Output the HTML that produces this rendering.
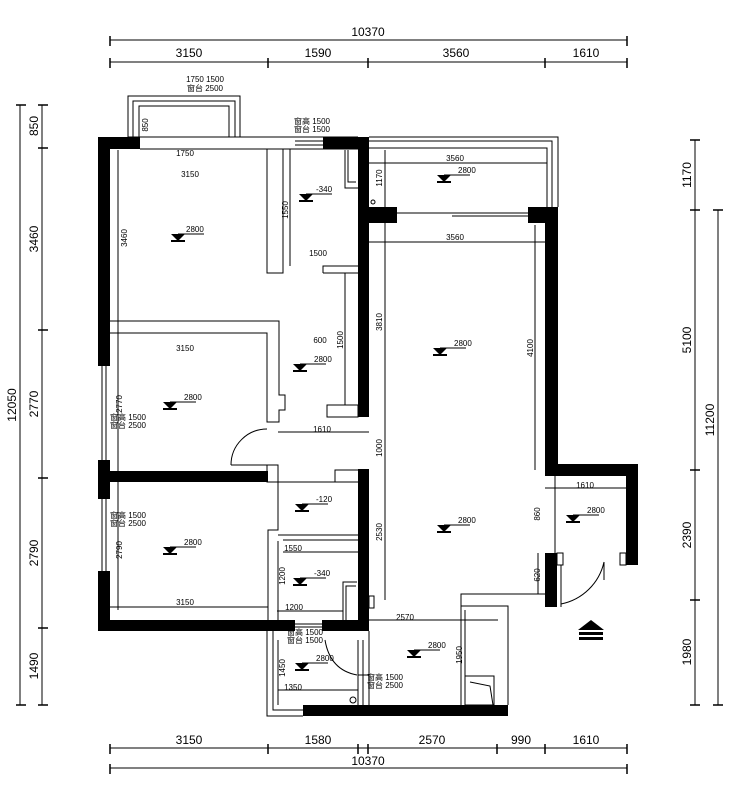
<!DOCTYPE html>
<html><head><meta charset="utf-8"><style>
html,body{margin:0;padding:0;background:#fff;}
svg{display:block;}
text{font-family:"Liberation Sans",sans-serif;fill:#000;}
.d{font-size:12px;}
.s{font-size:8px;}
</style></head><body>
<svg width="750" height="809" viewBox="0 0 750 809" xmlns="http://www.w3.org/2000/svg">
<defs>
<g id="el"><polygon points="-7,-4 7,-4 0,3" fill="#000"/><rect x="-7" y="2" width="14" height="2" fill="#000"/><line x1="0" y1="-4" x2="26" y2="-4" stroke="#000" stroke-width="1"/></g>
</defs>
<g stroke="#000" stroke-width="1" fill="none">
<!-- top dims -->
<line x1="110" y1="40" x2="627" y2="40"/>
<line x1="110" y1="62" x2="627" y2="62"/>
<g stroke-width="1.5">
<line x1="110" y1="36" x2="110" y2="46"/><line x1="627" y1="36" x2="627" y2="46"/>
<line x1="110" y1="58" x2="110" y2="68"/><line x1="268" y1="58" x2="268" y2="68"/><line x1="368" y1="58" x2="368" y2="68"/><line x1="545" y1="58" x2="545" y2="68"/><line x1="627" y1="58" x2="627" y2="68"/>
</g>
<!-- bottom dims -->
<line x1="110" y1="748" x2="627" y2="748"/>
<line x1="110" y1="768" x2="627" y2="768"/>
<g stroke-width="1.5">
<line x1="110" y1="744" x2="110" y2="754"/><line x1="268" y1="744" x2="268" y2="754"/><line x1="358" y1="744" x2="358" y2="754"/><line x1="368" y1="744" x2="368" y2="754"/><line x1="497" y1="744" x2="497" y2="754"/><line x1="545" y1="744" x2="545" y2="754"/><line x1="627" y1="744" x2="627" y2="754"/>
<line x1="110" y1="764" x2="110" y2="774"/><line x1="627" y1="764" x2="627" y2="774"/>
</g>
<!-- left dims -->
<line x1="42" y1="105" x2="42" y2="705"/>
<line x1="20" y1="105" x2="20" y2="705"/>
<g stroke-width="1.5">
<line x1="38" y1="105" x2="48" y2="105"/><line x1="38" y1="148" x2="48" y2="148"/><line x1="38" y1="330" x2="48" y2="330"/><line x1="38" y1="478" x2="48" y2="478"/><line x1="38" y1="628" x2="48" y2="628"/><line x1="38" y1="705" x2="48" y2="705"/>
<line x1="16" y1="105" x2="26" y2="105"/><line x1="16" y1="705" x2="26" y2="705"/>
</g>
<!-- right dims -->
<line x1="695" y1="140" x2="695" y2="705"/>
<line x1="718" y1="210" x2="718" y2="705"/>
<g stroke-width="1.5">
<line x1="690" y1="140" x2="700" y2="140"/><line x1="690" y1="210" x2="700" y2="210"/><line x1="690" y1="470" x2="700" y2="470"/><line x1="690" y1="600" x2="700" y2="600"/><line x1="690" y1="705" x2="700" y2="705"/>
<line x1="713" y1="210" x2="723" y2="210"/><line x1="713" y1="705" x2="723" y2="705"/>
</g>
<!-- top balcony -->
<rect x="128" y="96" width="112" height="41"/>
<rect x="133" y="101" width="102" height="36"/>
<rect x="139" y="106" width="90" height="31"/>
<!-- top thin wall -->
<line x1="230" y1="137" x2="358" y2="137"/><line x1="230" y1="149" x2="358" y2="149"/>
<line x1="295" y1="141" x2="323" y2="141"/><line x1="295" y1="145" x2="323" y2="145"/>
<line x1="140" y1="149" x2="230" y2="149"/>
<!-- partitions upper left -->
<polyline points="267,149 267,273 283,273 283,149"/>
<line x1="290" y1="149" x2="290" y2="266"/>
<polyline points="323,273 323,266 358,266"/>
<line x1="323" y1="273" x2="358" y2="273"/>
<line x1="345" y1="273" x2="345" y2="405"/>
<rect x="327" y="405" width="31" height="12"/>
<polyline points="345,150 345,188 358,188"/><polyline points="348,150 348,182 356,182"/>
<!-- bedroom2 top wall -->
<polyline points="110,321 279,321 279,395 285,395 285,410 279,410 279,422 267,422 267,333 110,333"/>
<line x1="118" y1="150" x2="118" y2="610"/>
<!-- door arc bedroom 2 -->
<path d="M231,465 A36,36 0 0 1 267,429"/><line x1="231" y1="465" x2="267" y2="465"/>
<rect x="267" y="465" width="11" height="17"/>
<!-- corridor lines -->
<line x1="278" y1="432" x2="369" y2="432"/>
<!-- bedroom3 -->
<line x1="110" y1="607" x2="268" y2="607"/>
<polyline points="268,620 268,530 278,530 278,482 358,482"/>
<polyline points="335,482 335,470 358,470"/>
<line x1="278" y1="535" x2="358" y2="535"/><line x1="283" y1="540" x2="358" y2="540"/>
<line x1="278" y1="541" x2="278" y2="620"/>
<line x1="283" y1="552" x2="358" y2="552"/>
<line x1="277" y1="611" x2="343" y2="611"/>
<polyline points="343,620 343,582 357,582"/><polyline points="346,620 346,586 356,586"/>
<rect x="369" y="596" width="5" height="12"/>
<!-- windows left -->
<line x1="102" y1="366" x2="102" y2="460"/><line x1="106" y1="366" x2="106" y2="460"/>
<line x1="102" y1="499" x2="102" y2="571"/><line x1="106" y1="499" x2="106" y2="571"/>
<line x1="295" y1="624" x2="322" y2="624"/><line x1="295" y1="627" x2="322" y2="627"/>
<!-- lower bath -->
<polyline points="267,631 267,716 303,716"/>
<polyline points="273,631 273,710 303,710"/>
<line x1="278" y1="640" x2="278" y2="705"/>
<line x1="278" y1="690" x2="358" y2="690"/>
<line x1="358" y1="640" x2="358" y2="705"/>
<line x1="363" y1="640" x2="363" y2="705"/>
<line x1="358" y1="675" x2="369" y2="675"/>
<path d="M325,640 Q330,670 357,675"/>
<line x1="369" y1="631" x2="369" y2="705"/>
<circle cx="353" cy="700" r="3"/>
<!-- kitchen -->
<polyline points="461,705 461,606 508,606 508,705"/>
<polyline points="465,705 465,610"/>
<polyline points="461,606 461,594 545,594"/>
<line x1="369" y1="620" x2="498" y2="620"/>
<rect x="465" y="676" width="29" height="29"/><path d="M470,682 L490,686 L493,705"/>
<!-- balcony top right -->
<polyline points="369,137 558,137 558,207"/>
<polyline points="369,141 552,141 552,207"/>
<polyline points="369,148 547,148 547,207"/>
<line x1="397" y1="213" x2="528" y2="213"/><line x1="452" y1="216" x2="528" y2="216"/>
<line x1="369" y1="163" x2="547" y2="163"/>
<line x1="369" y1="242" x2="547" y2="242"/>
<line x1="385" y1="150" x2="385" y2="600"/>
<line x1="535" y1="225" x2="535" y2="470"/>
<circle cx="373" cy="202" r="2"/>
<!-- entry -->
<line x1="545" y1="488" x2="626" y2="488"/>
<line x1="555" y1="476" x2="555" y2="553"/>
<rect x="557" y="553" width="6" height="12"/><rect x="620" y="553" width="6" height="12"/>
<path d="M561,604 A55,55 0 0 0 604,562"/>
<line x1="561" y1="565" x2="561" y2="607"/><line x1="604" y1="562" x2="604" y2="580"/>
<line x1="538" y1="553" x2="538" y2="594"/>
</g>
<!-- black walls -->
<g fill="#000">
<rect x="98" y="137" width="12" height="229"/>
<rect x="98" y="137" width="42" height="12"/>
<rect x="98" y="460" width="12" height="39"/>
<rect x="98" y="571" width="12" height="60"/>
<rect x="110" y="471" width="158" height="11"/>
<rect x="98" y="620" width="197" height="11"/>
<rect x="322" y="620" width="47" height="11"/>
<rect x="323" y="137" width="46" height="12"/>
<rect x="358" y="137" width="11" height="280"/>
<rect x="358" y="469" width="11" height="162"/>
<rect x="369" y="207" width="28" height="16"/>
<rect x="528" y="207" width="30" height="16"/>
<rect x="545" y="207" width="13" height="269"/>
<rect x="545" y="464" width="93" height="12"/>
<rect x="626" y="464" width="12" height="101"/>
<rect x="545" y="553" width="12" height="54"/>
<rect x="303" y="705" width="205" height="11"/>
<!-- arrow icon -->
<polygon points="591,620 578,630 604,630"/>
<rect x="579" y="632" width="24" height="3"/><rect x="579" y="637" width="24" height="3"/>
</g>
<!-- dimension text -->
<g class="d" text-anchor="middle">
<text x="368" y="36">10370</text>
<text x="189" y="57">3150</text><text x="318" y="57">1590</text><text x="456" y="57">3560</text><text x="586" y="57">1610</text>
<text x="189" y="744">3150</text><text x="318" y="744">1580</text><text x="432" y="744">2570</text><text x="521" y="744">990</text><text x="586" y="744">1610</text>
<text x="368" y="765">10370</text>
<text transform="translate(38,126) rotate(-90)">850</text>
<text transform="translate(38,239) rotate(-90)">3460</text>
<text transform="translate(38,404) rotate(-90)">2770</text>
<text transform="translate(38,553) rotate(-90)">2790</text>
<text transform="translate(38,666) rotate(-90)">1490</text>
<text transform="translate(16,405) rotate(-90)">12050</text>
<text transform="translate(691,175) rotate(-90)">1170</text>
<text transform="translate(691,340) rotate(-90)">5100</text>
<text transform="translate(691,535) rotate(-90)">2390</text>
<text transform="translate(691,652) rotate(-90)">1980</text>
<text transform="translate(714,420) rotate(-90)">11200</text>
</g>
<!-- elevation markers -->
<g class="s">
<use href="#el" x="178" y="238"/><text x="186" y="232">2800</text>
<use href="#el" x="306" y="198"/><text x="316" y="192">-340</text>
<use href="#el" x="300" y="368"/><text x="314" y="362">2800</text>
<use href="#el" x="170" y="406"/><text x="184" y="400">2800</text>
<use href="#el" x="444" y="179"/><text x="458" y="173">2800</text>
<use href="#el" x="440" y="352"/><text x="454" y="346">2800</text>
<use href="#el" x="302" y="508"/><text x="316" y="502">-120</text>
<use href="#el" x="170" y="551"/><text x="184" y="545">2800</text>
<use href="#el" x="300" y="582"/><text x="314" y="576">-340</text>
<use href="#el" x="444" y="529"/><text x="458" y="523">2800</text>
<use href="#el" x="573" y="519"/><text x="587" y="513">2800</text>
<use href="#el" x="414" y="654"/><text x="428" y="648">2800</text>
<use href="#el" x="302" y="667"/><text x="316" y="661">2800</text>
</g>
<!-- small dims -->
<g class="s" text-anchor="middle" font-size="7">
<text x="185" y="156">1750</text><text x="190" y="177">3150</text><text x="185" y="351">3150</text><text x="185" y="605">3150</text>
<text x="318" y="256">1500</text><text x="320" y="343">600</text><text x="322" y="432">1610</text>
<text x="293" y="551">1550</text><text x="294" y="610">1200</text><text x="293" y="690">1350</text>
<text x="455" y="161">3560</text><text x="455" y="240">3560</text><text x="405" y="620">2570</text><text x="585" y="488">1610</text>
<text x="205" y="82">1750 1500</text><text x="205" y="91">窗台 2500</text>
<text x="312" y="124">窗高 1500</text><text x="312" y="132">窗台 1500</text>
<text x="128" y="420">窗高 1500</text><text x="128" y="428">窗台 2500</text>
<text x="128" y="518">窗高 1500</text><text x="128" y="526">窗台 2500</text>
<text x="305" y="635">窗高 1500</text><text x="305" y="643">窗台 1500</text>
<text x="385" y="680">窗高 1500</text><text x="385" y="688">窗台 2500</text>
<text transform="translate(148,125) rotate(-90)">850</text>
<text transform="translate(127,238) rotate(-90)">3460</text>
<text transform="translate(288,210) rotate(-90)">1550</text>
<text transform="translate(382,178) rotate(-90)">1170</text>
<text transform="translate(382,322) rotate(-90)">3810</text>
<text transform="translate(382,448) rotate(-90)">1000</text>
<text transform="translate(382,532) rotate(-90)">2530</text>
<text transform="translate(533,348) rotate(-90)">4100</text>
<text transform="translate(343,340) rotate(-90)">1500</text>
<text transform="translate(122,404) rotate(-90)">2770</text>
<text transform="translate(122,550) rotate(-90)">2790</text>
<text transform="translate(285,576) rotate(-90)">1200</text>
<text transform="translate(285,668) rotate(-90)">1450</text>
<text transform="translate(462,655) rotate(-90)">1950</text>
<text transform="translate(540,514) rotate(-90)">860</text>
<text transform="translate(540,575) rotate(-90)">620</text>
</g>
</svg>
</body></html>
